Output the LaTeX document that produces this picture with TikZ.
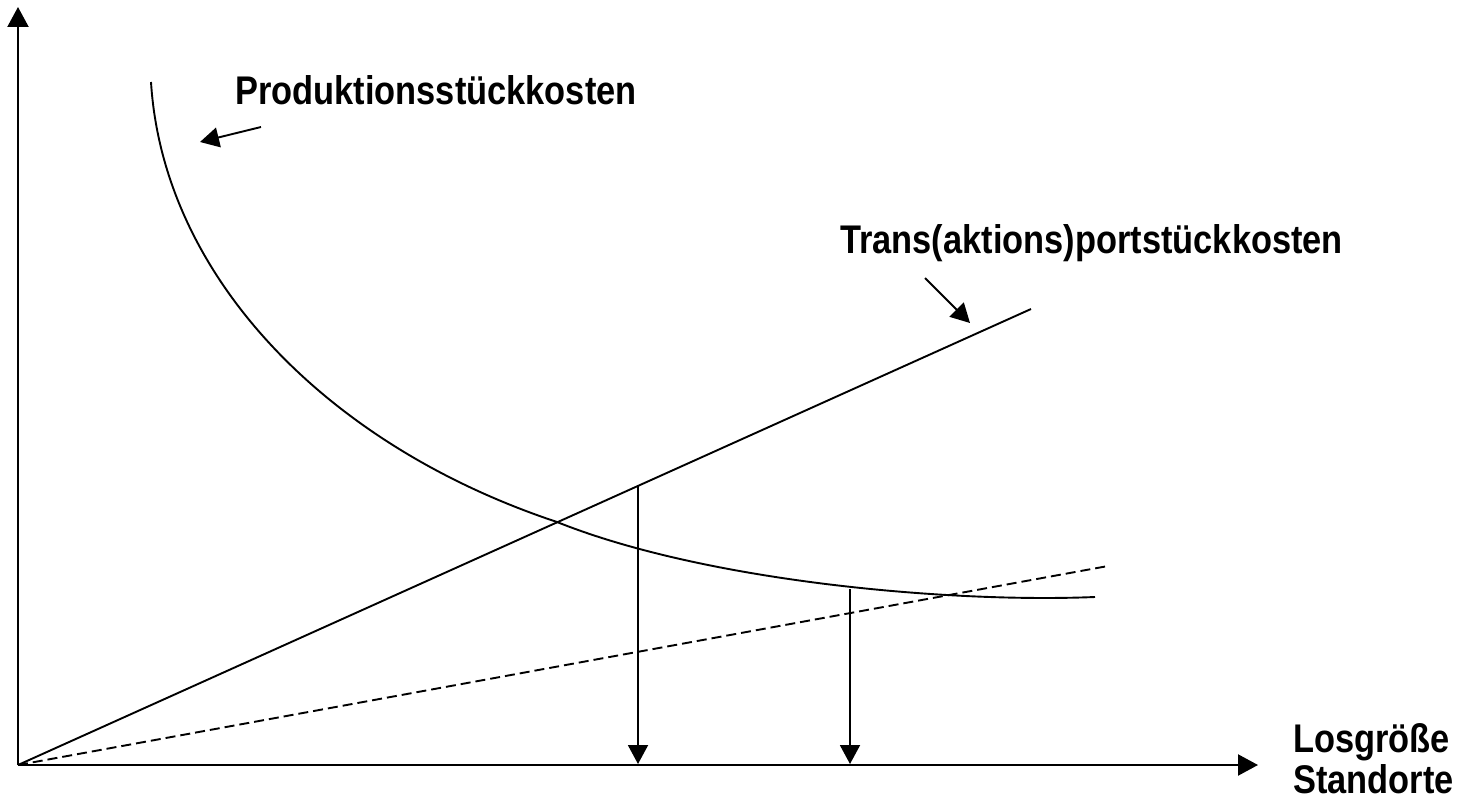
\documentclass[tikz,border=0pt]{standalone}
\usepackage{fontspec}
\newfontfamily\labelfont{Liberation Sans}[FakeStretch=0.86]
\usetikzlibrary{arrows.meta}
\usetikzlibrary{positioning}
\usetikzlibrary{calc}

\begin{document}
\begin{tikzpicture}[x=1pt,y=-1pt,
		axis/.style={line width=2.2pt,-{Triangle[length=20pt,width=21pt]}},
		pointer/.style={line width=1.9pt,-{Triangle[length=19pt,width=20pt]}},
		curve/.style={line width=1.9pt},
		lbl/.style={anchor=base west,inner sep=0pt,font=\labelfont\bfseries\fontsize{40}{44}\selectfont}]
		\useasboundingbox (0,0) rectangle (1459,808);
		% axes
		\coordinate (O) at (18,765);
		\coordinate (ytip) at (18,7);
		\coordinate (xtip) at (1258,765);
		\draw[axis] (O) -- (ytip);
		\draw[axis] (O) -- (xtip);
		% cost lines
		\coordinate (tend) at (1031,309);
		\coordinate (dend) at (1108,566);
		\draw[curve] (O) -- (tend);
		\draw[curve,dash pattern=on 10pt off 5pt] (O) -- (dend);
		\coordinate (cstart) at (151,82);
		\coordinate (cmid) at (557,522);
		\coordinate (cend) at (1095,597);
		\draw[curve] (cstart) .. controls (163,275) and (325,445) .. (cmid)
			.. controls (707,582) and (950,603) .. (cend);
		% optimum arrows
		\coordinate (a1top) at (638,486);
		\coordinate (a1bot) at (638,764);
		\coordinate (a2top) at (850,589);
		\coordinate (a2bot) at (850,764);
		\draw[pointer] (a1top) -- (a1bot);
		\draw[pointer] (a2top) -- (a2bot);
		% labels
		\node[lbl] (prod) at (235,104) {Produktionsstückkosten};
		\node[lbl] (trans) at (840,253) {Trans(aktions)portstückkosten};
		\node[lbl] (los) at (1293,752) {Losgröße};
		\node[lbl] (std) at ($(los.base west)+(0,41)$) {Standorte};
		\coordinate (p1) at (261,127);
		\coordinate (p2) at (200,142);
		\coordinate (t1) at (925,278);
		\coordinate (t2) at (970,323);
		\draw[pointer] (p1) -- (p2);
		\draw[pointer] (t1) -- (t2);
\end{tikzpicture}
\end{document}
